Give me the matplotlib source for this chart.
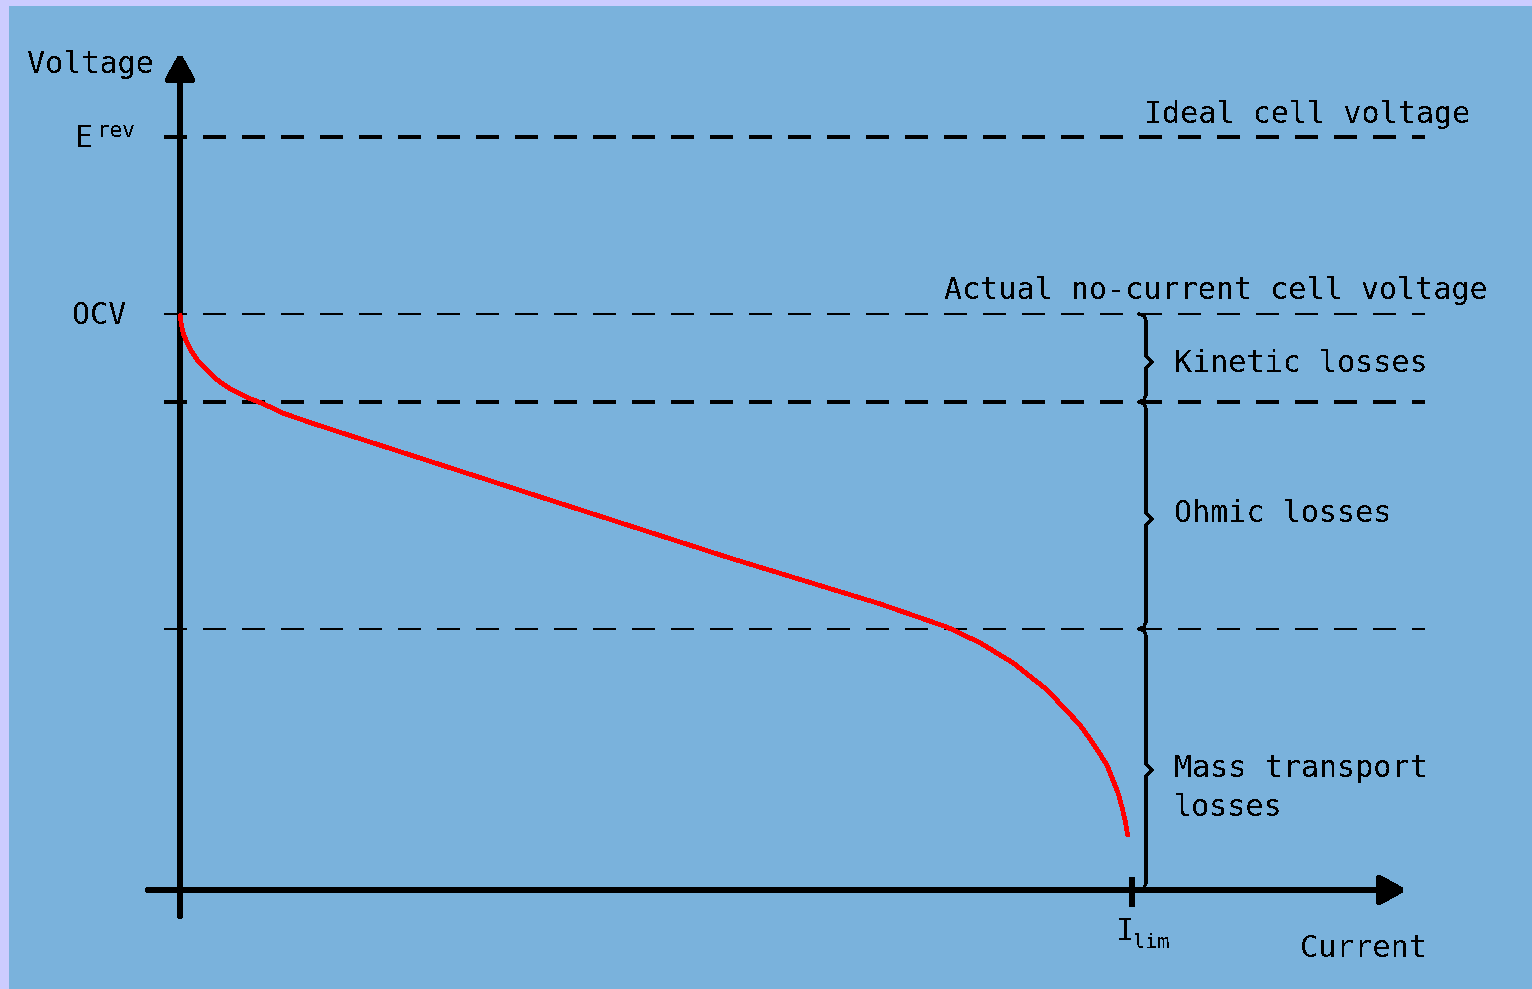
import matplotlib
matplotlib.use("Agg")
import matplotlib.pyplot as plt
from matplotlib.patches import Rectangle

plt.rcParams['lines.scale_dashes'] = False

# ---------------- data ----------------
current = [0.0, 0.0011, 0.0032, 0.0074, 0.0126, 0.0179, 0.0284, 0.0389, 0.0546,
           0.0704, 0.0872, 0.1082, 0.1366, 0.1649, 0.4202, 0.5777, 0.7353,
           0.8057, 0.8403, 0.8750, 0.9107, 0.9454, 0.9590, 0.9737, 0.9800,
           0.9853, 0.9895, 0.9926, 0.9958]
voltage = [0.918, 0.904, 0.888, 0.872, 0.857, 0.845, 0.829, 0.813, 0.797,
           0.785, 0.775, 0.760, 0.745, 0.731, 0.606, 0.529, 0.456,
           0.419, 0.394, 0.362, 0.319, 0.263, 0.234, 0.199, 0.175,
           0.155, 0.132, 0.112, 0.085]
E_rev = 1.2
OCV = 0.918
V_kinetic = 0.778
V_ohmic = 0.416
I_lim = 1.0
level_labels = ["Ideal cell voltage", "Actual no-current cell voltage"]
loss_labels = ["Kinetic losses", "Ohmic losses", "Mass transport\nlosses"]

# ---------------- layout ----------------
W, H = 1532, 989
X0, Y0 = 180, 890          # pixel position of origin
SX, SY = 952.0, 627.5      # pixels per unit

def px(x):
    return (x - X0) / SX

def py(y):
    return (Y0 - y) / SY

BG = "#7AB2DC"
BORDER = "#CCCCFF"
FONT = "DejaVu Sans Mono"
FS = 21.6

fig = plt.figure(figsize=(W / 100, H / 100), dpi=100)
fig.patch.set_facecolor(BORDER)
ax = fig.add_axes([0, 0, 1, 1], zorder=1)
ax.set_xlim(px(0), px(W))
ax.set_ylim(py(H), py(0))
ax.axis("off")
bg = Rectangle((9 / W, 0), 1, 1 - 6 / H, transform=fig.transFigure,
               facecolor=BG, edgecolor="none", zorder=-10)
fig.add_artist(bg)

dash = (16, 12)
# horizontal reference lines
ax.plot([px(164), px(1425)], [E_rev, E_rev], color="k", lw=2.9, dashes=dash,
        antialiased=False, dash_capstyle="butt")
ax.plot([px(164), px(1425)], [OCV, OCV], color="k", lw=1.6, dashes=dash,
        antialiased=False, dash_capstyle="butt")
ax.plot([px(164), px(1425)], [V_kinetic, V_kinetic], color="k", lw=2.9, dashes=dash,
        antialiased=False, dash_capstyle="butt")
ax.plot([px(164), px(1425)], [V_ohmic, V_ohmic], color="k", lw=1.6, dashes=dash,
        antialiased=False, dash_capstyle="butt")

# axes with arrows
arrow = dict(arrowstyle="-|>,head_length=0.75,head_width=0.42", lw=4.2, color="k",
             shrinkA=0, shrinkB=0, mutation_scale=20, antialiased=False)
ax.annotate("", xy=(0, py(53)), xytext=(0, py(916)), arrowprops=arrow)
ax.annotate("", xy=(px(1406), 0), xytext=(px(148), 0), arrowprops=arrow)

# I_lim tick
ax.plot([I_lim, I_lim], [py(877), py(907)], color="k", lw=4.3,
        solid_capstyle="butt", antialiased=False)

# polarisation curve
ax.plot(current, voltage, color="#FF0000", lw=2.6, antialiased=False,
        solid_capstyle="butt", zorder=5)

# braces
def brace(xp, v_top, v_bot, ypoint=None):
    yt = Y0 - v_top * SY
    yb = Y0 - v_bot * SY
    ym = (yt + yb) / 2 if ypoint is None else ypoint
    xs = [xp - 7, xp - 2, xp, xp, xp + 6, xp, xp, xp - 2, xp - 7]
    ys = [yt, yt + 2, yt + 7, ym - 6, ym, ym + 6, yb - 7, yb - 2, yb]
    ax.plot([px(x) for x in xs], [py(y) for y in ys], color="k", lw=1.6,
            antialiased=False)
    return ym

bx = 1146
ym1 = brace(bx, OCV, V_kinetic, 362)
ym2 = brace(bx, V_kinetic, V_ohmic, 519)
ym3 = brace(bx, V_ohmic, 0, 770)

# ---------------- texts ----------------
tk = dict(family=FONT, fontsize=FS, color="k", antialiased=False)
ax.text(px(27), py(73), "Voltage", ha="left", va="baseline", **tk)
ax.text(px(75), py(147), "E", ha="left", va="baseline", **tk)
ax.text(px(97), py(137), "rev", ha="left", va="baseline",
        **{**tk, "fontsize": 15})
ax.text(px(72), py(324), "OCV", ha="left", va="baseline", **tk)
ax.text(px(1144), py(123), level_labels[0], ha="left", va="baseline", **tk)
ax.text(px(944), py(299), level_labels[1], ha="left", va="baseline", **tk)
ax.text(px(1174), py(364), loss_labels[0], ha="left", va="center", **tk)
ax.text(px(1174), py(514), loss_labels[1], ha="left", va="center", **tk)
ax.text(px(1174), py(788), loss_labels[2], ha="left", va="center",
        linespacing=1.45, **tk)
ax.text(px(1116), py(940), "I", ha="left", va="baseline", **tk)
ax.text(px(1133), py(948), "lim", ha="left", va="baseline",
        **{**tk, "fontsize": 14.5})
ax.text(px(1300), py(957), "Current", ha="left", va="baseline", **tk)

fig.savefig("out.png", dpi=100, facecolor=fig.get_facecolor())
